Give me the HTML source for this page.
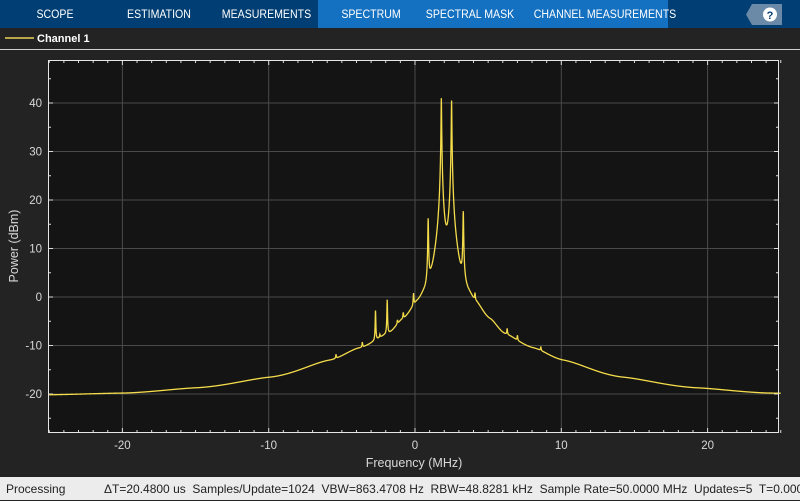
<!DOCTYPE html>
<html><head><meta charset="utf-8"><style>
body{margin:0;width:800px;height:500px;overflow:hidden;background:#232323;font-family:"Liberation Sans",sans-serif;}
.top{position:absolute;left:0;top:0;width:800px;height:28px;background:#003e73;}
.tab{position:absolute;top:0;height:28px;line-height:30px;color:#fff;font-size:11.5px;text-align:center;white-space:nowrap;transform:scaleX(0.92);}
.act{position:absolute;left:318px;top:0;width:350px;height:28px;background:#1470c0;}
.status{position:absolute;left:0;top:477px;width:800px;height:23px;background:#ececec;color:#222;font-size:12px;line-height:24px;white-space:nowrap;}
</style></head><body>
<div class="top"></div><div class="act"></div>
<div class="tab" style="left:20px;width:70px">SCOPE</div>
<div class="tab" style="left:118px;width:82px">ESTIMATION</div>
<div class="tab" style="left:218px;width:95px">MEASUREMENTS</div>
<div class="tab" style="left:332px;width:78px">SPECTRUM</div>
<div class="tab" style="left:420px;width:100px">SPECTRAL MASK</div>
<div class="tab" style="left:525px;width:160px">CHANNEL MEASUREMENTS</div>
<svg style="position:absolute;left:746px;top:4px" width="36" height="21"><polygon points="6,0 36,0 36,21 6,21 0,10.5" fill="#6b8aa8"/><circle cx="24" cy="10.5" r="7" fill="#fff"/><text x="24" y="15" font-size="11" font-weight="bold" text-anchor="middle" fill="#003e73" font-family="Liberation Sans">?</text></svg>
<svg style="position:absolute;left:0;top:28px" width="800" height="449">
<line x1="5" y1="10" x2="34" y2="10" stroke="#e8d35a" stroke-width="1.5"/>
<text x="37" y="14" fill="#fff" font-size="11" font-weight="bold">Channel 1</text>
<line x1="0" y1="21.5" x2="800" y2="21.5" stroke="#cfcfcf" stroke-width="1"/>
<g id="plot"></g>
</svg>
<div class="status"><span style="position:absolute;left:6px">Processing</span><span style="position:absolute;left:104px">ΔT=20.4800 us&nbsp; Samples/Update=1024&nbsp; VBW=863.4708 Hz&nbsp; RBW=48.8281 kHz&nbsp; Sample Rate=50.0000 MHz&nbsp; Updates=5&nbsp; T=0.0001</span></div>
<script>
var L=48,R=779,T=32,B=405;
function X(f){return 415+f*14.63;}
function Y(d){return 269-d*4.85;}
var s='<rect x="'+L+'" y="'+T+'" width="'+(R-L)+'" height="'+(B-T)+'" fill="#141414"/>';
for(var f=-20;f<=20;f+=10)s+='<line x1="'+X(f)+'" y1="'+T+'" x2="'+X(f)+'" y2="'+B+'" stroke="#4a4a4a"/>';
for(var d=-20;d<=40;d+=10)s+='<line x1="'+L+'" y1="'+Y(d)+'" x2="'+R+'" y2="'+Y(d)+'" stroke="#4a4a4a"/>';
for(var f=-25;f<=25;f++){var x=X(f);var l=(f%10==0)?5:3;s+='<line x1="'+x+'" y1="'+B+'" x2="'+x+'" y2="'+(B-l)+'" stroke="#ddd"/><line x1="'+x+'" y1="'+T+'" x2="'+x+'" y2="'+(T+l)+'" stroke="#ddd"/>';}
for(var d=-25;d<=45;d+=5){var y=Y(d);if(y<T||y>B)continue;var l=(d%10==0)?5:3;s+='<line x1="'+L+'" y1="'+y+'" x2="'+(L+l)+'" y2="'+y+'" stroke="#ddd"/><line x1="'+R+'" y1="'+y+'" x2="'+(R-l)+'" y2="'+y+'" stroke="#ddd"/>';}
var bt=[[0,8],[0.6,6],[1,3],[1.5,0.5],[2,-1],[3,-4.5],[4,-7.5],[6,-10.5],[8,-13],[12,-16.5],[17,-18.7],[22,-19.8],[28,-20.2]];
function tr(d){return Math.log(d+0.5);}
function base(f){var d=Math.abs(f-2.15);for(var i=1;i<bt.length;i++){if(d<=bt[i][0]){var a=bt[i-1],b=bt[i],t=(tr(d)-tr(a[0]))/(tr(b[0])-tr(a[0]));t=t*t*(3-2*t)*0.5+t*0.5;return a[1]+t*(b[1]-a[1]);}}return -20.2;}
var pk=[[1.8,41,0.015],[2.5,40.5,0.015],[0.9,16,0.02],[3.3,17.5,0.02],[-2.7,-4,0.02],[-1.9,-1.5,0.02]];
var small=[[-0.1,2.5],[-0.8,1.2],[-3.6,1],[-1.2,0.8],[-2.4,0.6],[4.1,1.5],[6.3,1.2],[7,1],[8.6,0.8],[-5.4,0.8]];
small.forEach(function(q){pk.push([q[0],base(q[0])+10*Math.log10(Math.pow(10,q[1]/10)-1),0.03]);});
var p='';
for(var i=0;i<=5000;i++){var f=-25+i*0.01;var lin=Math.pow(10,base(f)/10);
for(var k=0;k<pk.length;k++){var q=pk[k];var dd=Math.abs(f-q[0]);var u=dd/q[2];lin+=Math.pow(10,q[1]/10)/(1+u*u)*Math.exp(-dd/(k<6?0.6:0.1));}
var d=10*Math.log10(lin);p+=(i?'L':'M')+X(f).toFixed(2)+' '+Y(d).toFixed(2);}
s+='<path d="'+p+'" fill="none" stroke="#f5dc4a" stroke-width="1.3"/>';
s+='<rect x="'+L+'.5" y="'+T+'.5" width="'+(R-L-1)+'" height="'+(B-T-1)+'" fill="none" stroke="#e6e6e6"/>';
var xl=[-20,-10,0,10,20];xl.forEach(function(f){s+='<text x="'+X(f)+'" y="421" fill="#d8d8d8" font-size="11.5" text-anchor="middle">'+f+'</text>';});
for(var d=-20;d<=40;d+=10)s+='<text x="'+(L-6)+'" y="'+(Y(d)+4)+'" fill="#d8d8d8" font-size="11.5" text-anchor="end">'+d+'</text>';
s+='<text x="414" y="439" fill="#d8d8d8" font-size="12.5" text-anchor="middle">Frequency (MHz)</text>';
s+='<text transform="translate(18,218) rotate(-90)" fill="#d8d8d8" font-size="12.5" text-anchor="middle">Power (dBm)</text>';
document.getElementById('plot').innerHTML=s;
</script>
</body></html>
